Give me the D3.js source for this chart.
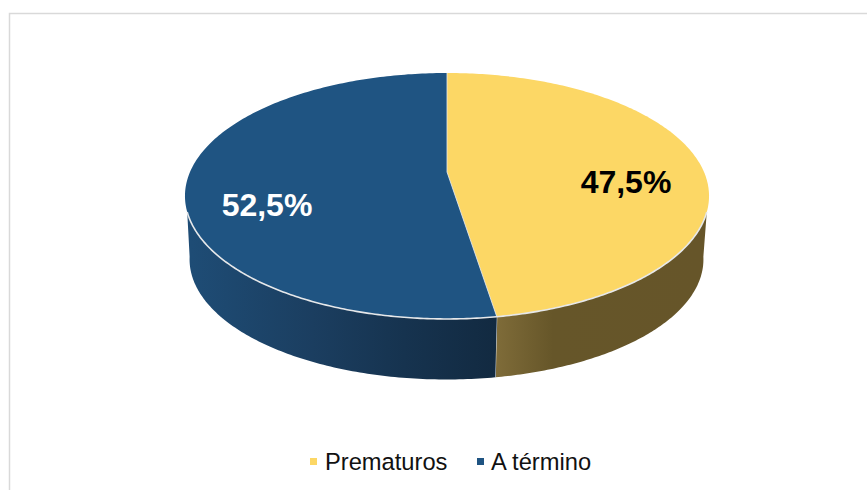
<!DOCTYPE html>
<html><head><meta charset="utf-8">
<script src="https://cdn.jsdelivr.net/npm/d3@7"></script>
<style>html,body{margin:0;padding:0;background:#fff}svg{display:block}</style>
</head><body>
<svg id="c" width="867" height="490"></svg>
<script>
const categories = ["Prematuros", "A término"];
const values = [47.5, 52.5];
const valueLabels = ["47,5%", "52,5%"];
const colors = ["#FCD765", "#1F5482"];
const labelColors = ["#000000", "#ffffff"];

const svg = d3.select("#c");
svg.append("path").attr("d","M9.5,490V13.5H867").attr("fill","none").attr("stroke","#d9d9d9").attr("stroke-width",1.5);

const k = 0.195;
const upperDisc = {cx:447, cy:172, w:257, h:118.3};
const lowerDisc = {cx:446.5, cy:236, w:252, h:115.5};
const proj = (d,a) => {
  const X=Math.sin(a),Y=Math.cos(a),q=1+k*Y;
  return [d.cx+d.w*X/q, d.cy-d.h*Y/q];
};
const line = d3.line();
const samples = (a,b,n=120) => d3.range(n+1).map(d3.scaleLinear().domain([0,n]).range([a,b]));
const rad = d3.scaleLinear().domain([0,360]).range([0,2*Math.PI]);

const pie = d3.pie().sort(null).value(d=>d);
const arcs = pie(values);
const sideStart = rad(108.5), sideEnd = rad(251.5);
const lowerStart = rad(100), lowerEnd = rad(260);

const defs = svg.append("defs");
const grads = [
  [[0,"#7f6c39"],[0.28,"#665629"],[1,"#665529"]],
  [[0,"#122a41"],[0.3,"#16334f"],[0.6,"#1b3e60"],[1,"#1e4c75"]]
];
const rimX = a => proj(lowerDisc,a)[0];
arcs.forEach((s,i)=>{
  const a=Math.max(s.startAngle,sideStart), b=Math.min(s.endAngle,sideEnd);
  const la=Math.max(s.startAngle,lowerStart), lb=Math.min(s.endAngle,lowerEnd);
  const g=defs.append("linearGradient").attr("id","g"+i).attr("gradientUnits","userSpaceOnUse")
    .attr("x1",rimX(i===0?b:a)).attr("x2",rimX(i===0?a:b)).attr("y1",0).attr("y2",0);
  grads[i].forEach(([o,c])=>g.append("stop").attr("offset",o).attr("stop-color",c));
  const upper=samples(a,b).map(t=>proj(upperDisc,t));
  const lower=samples(lb,la).map(t=>proj(lowerDisc,t));
  svg.append("path").attr("d",line(upper.concat(lower))+"Z").attr("fill",`url(#g${i})`);
  if(i===0) svg.append("path").attr("d",line([proj(upperDisc,b),proj(lowerDisc,b)])).attr("stroke","#dfe3e8").attr("stroke-width",1).attr("fill","none");
});

arcs.forEach((s,i)=>{
  const pts=[[upperDisc.cx,upperDisc.cy]].concat(samples(s.startAngle,s.endAngle,200).map(t=>proj(upperDisc,t)));
  svg.append("path").attr("d",line(pts)+"Z").attr("fill",colors[i]);
});
svg.append("path").attr("d",line([proj(upperDisc,arcs[0].endAngle),[upperDisc.cx,upperDisc.cy],proj(upperDisc,0)])).attr("stroke","#e8eaec").attr("stroke-width",0.8).attr("fill","none");
svg.append("path").attr("d",line(samples(sideStart,sideEnd,240).map(t=>proj(upperDisc,t)))).attr("stroke","#e6e8ea").attr("stroke-width",1.6).attr("fill","none");

const labelPos = [[626,193],[267,216]];
categories.forEach((c,i)=>{
  svg.append("text").attr("x",labelPos[i][0]).attr("y",labelPos[i][1]).attr("text-anchor","middle")
    .attr("font-family","'Liberation Sans',Arial,sans-serif").attr("font-weight","bold").attr("font-size",32)
    .attr("fill",labelColors[i]).text(valueLabels[i]);
});

const legendX = d3.scaleOrdinal().domain(categories).range([310,477]);
categories.forEach((c,i)=>{
  const x=legendX(c);
  svg.append("rect").attr("x",x).attr("y",458).attr("width",7).attr("height",7).attr("fill",colors[i]);
  svg.append("text").attr("x",x+(i===0?15:14)).attr("y",470).attr("font-family","'Liberation Sans',Arial,sans-serif")
    .attr("font-size",23.7).attr("fill","#111").text(c);
});
</script>
</body></html>
